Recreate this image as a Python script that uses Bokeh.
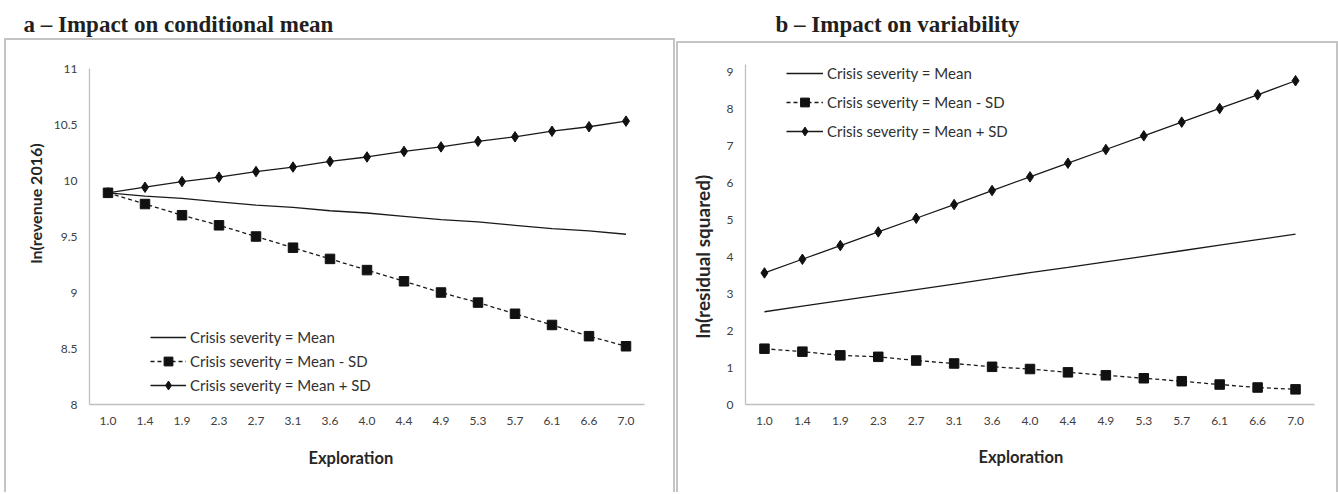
from bokeh.plotting import figure
from bokeh.layouts import row, column
from bokeh.models import (FactorRange, Range1d, FixedTicker, CustomJSTickFormatter,
                          Legend, LegendItem, Label, Title, Spacer)
from bokeh.embed import file_html
from bokeh.resources import INLINE

# ---------------- data ----------------
exploration = ["1.0", "1.4", "1.9", "2.3", "2.7", "3.1", "3.6", "4.0",
               "4.4", "4.9", "5.3", "5.7", "6.1", "6.6", "7.0"]

# panel a - ln(revenue 2016)
mean_a = [9.89, 9.86, 9.84, 9.81, 9.78, 9.76, 9.73, 9.71, 9.68, 9.65, 9.63, 9.60, 9.57, 9.55, 9.52]
minus_a = [9.89, 9.79, 9.69, 9.60, 9.50, 9.40, 9.30, 9.20, 9.10, 9.00, 8.91, 8.81, 8.71, 8.61, 8.52]
plus_a = [9.89, 9.94, 9.99, 10.03, 10.08, 10.12, 10.17, 10.21, 10.26, 10.30, 10.35, 10.39, 10.44, 10.48, 10.53]

# panel b - ln(residual squared)
mean_b = [2.51, 2.66, 2.81, 2.96, 3.11, 3.26, 3.41, 3.57, 3.71, 3.86, 4.01, 4.16, 4.31, 4.46, 4.61]
minus_b = [1.51, 1.43, 1.33, 1.29, 1.19, 1.11, 1.02, 0.96, 0.87, 0.79, 0.71, 0.63, 0.54, 0.46, 0.41]
plus_b = [3.56, 3.93, 4.30, 4.67, 5.04, 5.41, 5.79, 6.16, 6.53, 6.90, 7.27, 7.64, 8.01, 8.38, 8.76]

yticks_a = [8, 8.5, 9, 9.5, 10, 10.5, 11]
yticks_b = [0, 1, 2, 3, 4, 5, 6, 7, 8, 9]

series_labels = ["Crisis severity = Mean", "Crisis severity = Mean - SD", "Crisis severity = Mean + SD"]
titles = ["a \u2013 Impact on conditional mean", "b \u2013 Impact on variability"]
ylabels = ["ln(revenue 2016)", "ln(residual squared)"]
xlabel = "Exploration"

INK = "#1a1a1a"
AXIS = "#bfbfbf"
TXT = "#404040"
BORDER = "#c4c4c4"
LABEL_C = "#262626"


def title_fig(width, height, text, x, y):
    t = figure(width=width, height=height, x_axis_type=None, y_axis_type=None,
               toolbar_location=None, output_backend="svg", min_border=0,
               outline_line_color=None, title=None)
    t.xgrid.visible = False
    t.ygrid.visible = False
    t.add_layout(Label(x=x, y=y, x_units="screen", y_units="screen",
                       text=text, text_font="Liberation Serif", text_font_style="bold",
                       text_font_size="23px", text_color="#231f20",
                       text_align="left", text_baseline="alphabetic"))
    return t


def chart(width, height, fl, fr, ft, fb, yr, yticks, mean, minus, plus, ylab,
          ylab_size, ylab_off, ylab_sd, xlab_off, xlab_sd, leg_pos, leg_h, leg_sp, leg_gw):
    p = figure(width=width, height=height, x_range=FactorRange(*exploration, range_padding=0),
               y_range=Range1d(*yr), output_backend="svg", toolbar_location=None,
               min_border_left=fl, min_border_right=fr, min_border_top=ft,
               min_border_bottom=fb, outline_line_color=None, title=None,
               background_fill_color="white", border_fill_color="white")
    p.xgrid.visible = False
    p.ygrid.visible = False
    for ax in (p.xaxis[0], p.yaxis[0]):
        ax.axis_line_color = AXIS
        ax.axis_line_width = 1.3
        ax.major_tick_line_color = None
        ax.minor_tick_line_color = None
        ax.major_tick_out = 0
        ax.major_tick_in = 0
        ax.minor_tick_out = 0
        ax.major_label_text_font = "Lato"
        ax.major_label_text_font_size = "12px"
        ax.major_label_text_color = TXT
        ax.major_label_standoff = 12
    p.yaxis[0].ticker = FixedTicker(ticks=yticks)
    p.yaxis[0].formatter = CustomJSTickFormatter(code="return String(tick)")

    r_mean = p.line(exploration, mean, line_color=INK, line_width=1.3)
    r_minus_l = p.line(exploration, minus, line_color=INK, line_width=1.3, line_dash="4 3")
    r_minus_s = p.scatter(exploration, minus, marker="square", size=9.5, fill_color="#111111",
                          line_color="#111111")
    r_plus_l = p.line(exploration, plus, line_color=INK, line_width=1.3)
    r_plus_s = p.scatter(exploration, plus, marker="diamond", size=10.5, fill_color="#111111",
                         line_color="#111111")

    legend = Legend(items=[
        LegendItem(label=series_labels[0], renderers=[r_mean]),
        LegendItem(label=series_labels[1], renderers=[r_minus_l, r_minus_s]),
        LegendItem(label=series_labels[2], renderers=[r_plus_l, r_plus_s]),
    ], location=leg_pos, border_line_color=None, background_fill_alpha=0,
        padding=0, margin=0, spacing=leg_sp, glyph_width=leg_gw, glyph_height=leg_h,
        label_height=leg_h, label_standoff=4, label_text_font="Lato",
        label_text_font_size="15px", label_text_color="#303030")
    p.add_layout(legend)

    p.add_layout(Title(text=ylab, align="left", offset=ylab_off, standoff=ylab_sd,
                       text_font="Lato", text_font_style="bold",
                       text_font_size=ylab_size, text_color=LABEL_C), "left")
    p.add_layout(Title(text=xlabel, align="left", offset=xlab_off, standoff=xlab_sd,
                       text_font="Lato", text_font_style="bold",
                       text_font_size="16.5px", text_color=LABEL_C), "below")
    return p


def strip(w, h):
    return Spacer(width=w, height=h, styles={"background-color": BORDER})


# ---------------- panel a ----------------
t_a = title_fig(671, 38, titles[0], 19, 14)
c_a = chart(667, 452, 83, 29, 28, 88, (8, 11), yticks_a, mean_a, minus_a, plus_a,
            ylabels[0], "16px", 141, 12, 219, 36, (61, 8), 22, 2, 36)
panel_a = row(Spacer(width=4, height=492),
              column(t_a, strip(671, 2), row(strip(2, 452), c_a, strip(2, 452))))

# ---------------- panel b ----------------
t_b = title_fig(662, 41, titles[1], 99, 17)
c_b = chart(658, 449, 67, 22, 21, 88, (0, 9.2), yticks_b, mean_b, minus_b, plus_b,
            ylabels[1], "19px", 66, 19, 233, 34, (41, 262), 22, 7, 37)
panel_b = row(Spacer(width=1, height=492),
              column(t_b, strip(662, 2), row(strip(2, 449), c_b, strip(2, 449))))

layout = row(panel_a, panel_b)
open("out.html", "w").write(file_html(layout, INLINE))
